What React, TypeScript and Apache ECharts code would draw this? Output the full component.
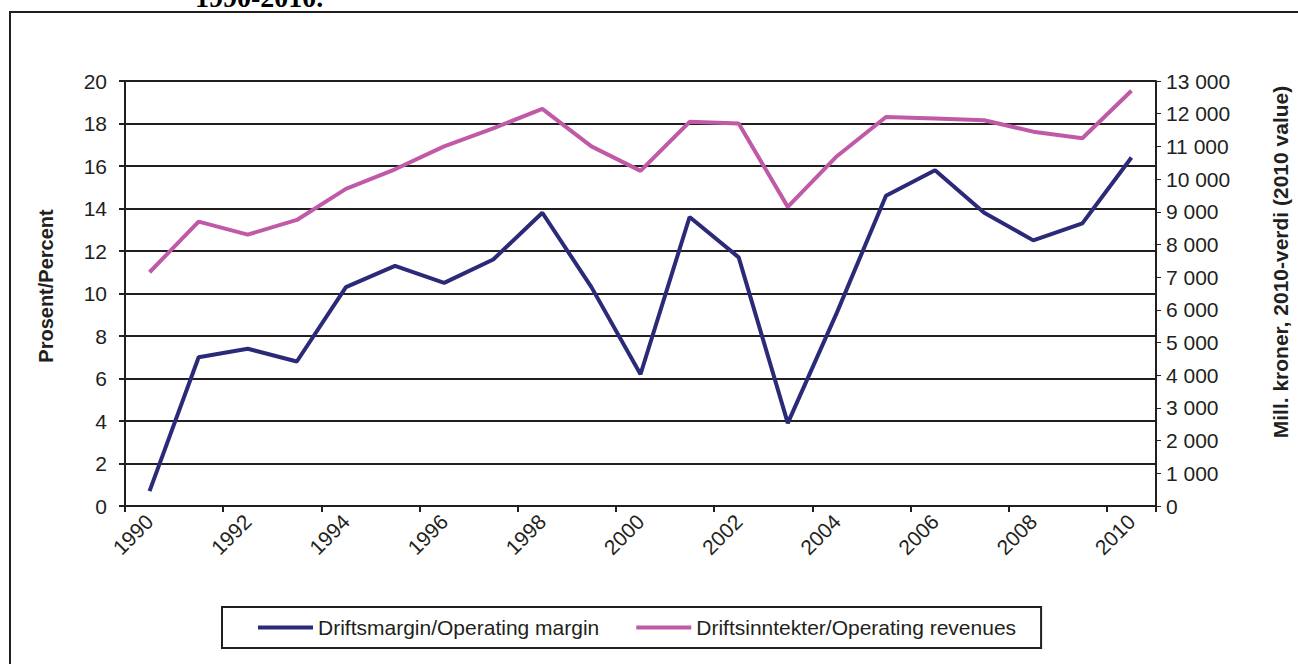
import React, { useEffect, useRef } from "react";
import * as echarts from "echarts";

const years = ["1990","1991","1992","1993","1994","1995","1996","1997","1998","1999","2000","2001","2002","2003","2004","2005","2006","2007","2008","2009","2010"];
const marginPct = [0.7, 7.0, 7.4, 6.8, 10.3, 11.3, 10.5, 11.6, 13.8, 10.3, 6.2, 13.6, 11.7, 3.9, 9.1, 14.6, 15.8, 13.8, 12.5, 13.3, 16.4];
const revenues = [7150, 8700, 8300, 8750, 9700, 10300, 11000, 11550, 12150, 11000, 10250, 11750, 11700, 9150, 10700, 11900, 11850, 11800, 11450, 11250, 12700];

const seriesNames = ["Driftsmargin/Operating margin", "Driftsinntekter/Operating revenues"];
const leftAxisName = "Prosent/Percent";
const rightAxisName = "Mill. kroner, 2010-verdi (2010 value)";
const titleText = "1990-2010.";

const FONT = "'Liberation Sans', Arial, sans-serif";
const INK = "#231f20";
const BLUE = "#2b2a78";
const PINK = "#c05aa6";
const FS = 21;

export default function App() {
  const ref = useRef<HTMLDivElement>(null);
  useEffect(() => {
    if (!ref.current) return;
    const chart = echarts.init(ref.current, null, { renderer: "svg" });
    const fmt = (v: number) => {
      const s = String(Math.round(v));
      return s.replace(/\B(?=(\d{3})+(?!\d))/g, " ");
    };
    chart.setOption({
      animation: false,
      backgroundColor: "#ffffff",
      textStyle: { fontFamily: FONT },
      grid: { left: 125, right: 142, top: 81, bottom: 158, containLabel: false },
      legend: {
        left: 222,
        top: 607,
        padding: [10, 25, 10, 36],
        itemGap: 37,
        itemWidth: 55,
        itemHeight: 4,
        icon: "rect",
        borderColor: INK,
        borderWidth: 2,
        textStyle: { fontFamily: FONT, fontSize: FS, color: INK },
        data: seriesNames,
      },
      xAxis: {
        type: "category",
        data: years,
        boundaryGap: true,
        axisLine: { lineStyle: { color: INK, width: 2 } },
        axisTick: { show: true, length: 6, lineStyle: { color: INK, width: 2 } },
        axisLabel: { interval: 1, rotate: 45, margin: 12, fontSize: FS, color: INK, fontFamily: FONT },
        splitLine: { show: false },
      },
      yAxis: [
        {
          type: "value",
          min: 0,
          max: 20,
          interval: 2,
          position: "left",
          axisLine: { show: true, lineStyle: { color: INK, width: 2 } },
          axisTick: { show: true, length: 6, lineStyle: { color: INK, width: 2 } },
          axisLabel: { margin: 18, fontSize: FS, color: INK, fontFamily: FONT },
          splitLine: { show: true, lineStyle: { color: INK, width: 2 } },
        },
        {
          type: "value",
          min: 0,
          max: 13000,
          interval: 1000,
          position: "right",
          axisLine: { show: true, lineStyle: { color: INK, width: 2 } },
          axisTick: { show: true, length: 5, lineStyle: { color: INK, width: 1 } },
          axisLabel: { margin: 10, fontSize: FS, color: INK, fontFamily: FONT, formatter: fmt },
          splitLine: { show: false },
        },
      ],
      series: [
        {
          name: seriesNames[0],
          type: "line",
          yAxisIndex: 0,
          data: marginPct,
          symbol: "none",
          lineStyle: { color: BLUE, width: 4 },
          itemStyle: { color: BLUE },
          z: 3,
        },
        {
          name: seriesNames[1],
          type: "line",
          yAxisIndex: 1,
          data: revenues,
          symbol: "none",
          lineStyle: { color: PINK, width: 4 },
          itemStyle: { color: PINK },
          z: 3,
        },
      ],
      graphic: [
        {
          type: "rect",
          z: -1,
          shape: { x: 10, y: 12, width: 1320, height: 700 },
          style: { fill: "none", stroke: INK, lineWidth: 2 },
          silent: true,
        },
        {
          type: "text",
          x: 195,
          y: -3,
          style: {
            text: titleText,
            font: "bold 28px 'Liberation Serif', 'Times New Roman', serif",
            fill: "#000",
            textAlign: "left",
            textVerticalAlign: "middle",
          },
        },
        {
          type: "text",
          x: 46,
          y: 286,
          rotation: Math.PI / 2,
          style: {
            text: leftAxisName,
            font: "bold 20px 'Liberation Sans', Arial, sans-serif",
            fill: INK,
            textAlign: "center",
            textVerticalAlign: "middle",
          },
        },
        {
          type: "text",
          x: 1280,
          y: 262,
          rotation: Math.PI / 2,
          style: {
            text: rightAxisName,
            font: "bold 21px 'Liberation Sans', Arial, sans-serif",
            fill: INK,
            textAlign: "center",
            textVerticalAlign: "middle",
          },
        },
      ],
    });
    return () => chart.dispose();
  }, []);
  return <div ref={ref} style={{ position: "fixed", left: 0, top: 0, width: 1298, height: 664 }} />;
}
